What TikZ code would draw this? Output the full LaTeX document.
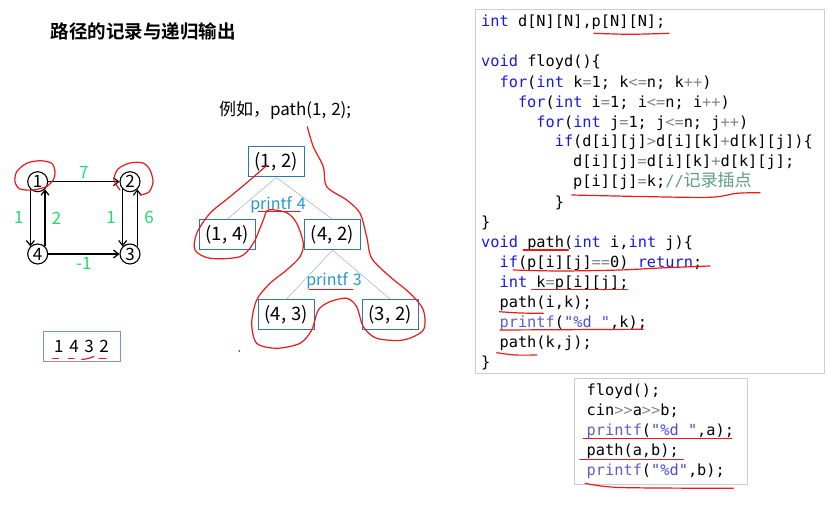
\documentclass[tikz,border=0pt]{standalone}
\usepackage{fontspec}
\setmainfont{Noto Sans CJK SC}[BoldFont={Noto Sans CJK SC Bold}]
\newfontfamily\codefont{DejaVu Sans Mono}
\newfontfamily\cjkfont{Noto Sans CJK SC}
\usetikzlibrary{arrows.meta}
\definecolor{wgreen}{RGB}{30, 220, 110}
\definecolor{boxblue}{RGB}{46, 117, 182}
\definecolor{seqblue}{RGB}{115, 150, 215}
\definecolor{lineblue}{RGB}{150, 175, 220}
\definecolor{printblue}{RGB}{40, 150, 215}
\definecolor{penred}{RGB}{235, 25, 25}
\definecolor{kwblue}{RGB}{25, 25, 230}
\definecolor{fnblue}{RGB}{95, 95, 190}
\definecolor{strblue}{RGB}{75, 75, 215}
\definecolor{opgray}{RGB}{135, 135, 135}
\definecolor{cmgreen}{RGB}{95, 155, 125}
\definecolor{framegray}{RGB}{205, 205, 205}

\newcommand{\ckw}[1]{\textcolor{kwblue}{#1}}
\newcommand{\cop}[1]{\textcolor{opgray}{#1}}
\newcommand{\cfn}[1]{\textcolor{fnblue}{#1}}
\newcommand{\cstr}[1]{\textcolor{strblue}{#1}}
\newcommand{\ccm}[1]{\textcolor{cmgreen}{#1}}
\newcommand{\wordgap}[1]{\spaceskip #1\relax}

\begin{document}
\begin{tikzpicture}[x=1pt, y=-1pt,
  vert/.style={draw, circle, line width=1.1, minimum size=20, inner sep=0,
    font=\fontsize{17}{18}\selectfont},
  arc/.style={line width=1.2, -{Straight Barb[length=5pt, width=8pt]}},
  weight/.style={wgreen, font=\fontsize{17}{18}\selectfont},
  tbox/.style={draw=boxblue, line width=1, minimum width=56, minimum height=30,
    inner sep=0, font=\fontsize{18.5}{20}\selectfont\wordgap{5pt}},
  tedge/.style={lineblue, line width=0.5},
  code/.style={anchor=base west, inner sep=0,
    font=\codefont\fontsize{15.3}{18}\selectfont},
  pen/.style={penred, line width=1.2, line cap=round}]

  \useasboundingbox (0, 0) rectangle (827, 505);

  \node[anchor=west, font=\bfseries\fontsize{18.5}{22}\selectfont] (title)
    at (47, 31.7) {路径的记录与递归输出};

  % graph
  \node[vert] (v1) at (37.7, 181.7) {1};
  \node[vert] (v2) at (130, 181.7) {2};
  \node[vert] (v4) at (37.7, 254) {4};
  \node[vert] (v3) at (130, 254) {3};

  \draw[arc] (v1) -- (v2) node[weight, midway, above=-1] {7};
  \draw[arc] (v4) -- (v3) node[weight, midway, below=-1] {-1};
  \draw[arc] (v1.-134) -- (v4.134) node[weight, midway, left=3] {1};
  \draw[arc] (v4.46) -- (v1.-46) node[weight, midway, right=3] {2};
  \draw[arc] (v2.-134) -- (v3.134) node[weight, midway, left=3] {1};
  \draw[arc] (v3.46) -- (v2.-46) node[weight, midway, right=3] {6};

  \draw[pen] plot[smooth] coordinates {(46.7, 186.7) (33.3, 190) (20, 189)
    (15, 181.7) (16.7, 171.7) (26.7, 163.3) (40, 160.7) (51.7, 163.3)
    (55, 171.7) (53.3, 180) (46.7, 186.7)};
  \draw[pen] plot[smooth] coordinates {(120, 190) (114, 180) (118, 169)
    (130, 163) (143, 163) (150, 170) (153, 182) (149, 192) (140, 195)};

  \node[draw=seqblue, line width=0.8, minimum width=77, minimum height=30,
    font=\fontsize{17}{18}\selectfont\wordgap{5.6pt}] (seq)
    at (81.5, 346) {1 4 3 2};
  \draw[pen] (52.7, 358.3) -- (58.3, 358.3);
  \draw[pen] (68.3, 358.3) -- (74, 358.3);
  \draw[pen] plot[smooth] coordinates {(81.7, 359.5) (88, 358.5) (94, 356.5)};
  \draw[pen] (99, 358.3) -- (106, 358.3);

  % recursion tree
  \node[anchor=west, font=\fontsize{17}{20}\selectfont\wordgap{5pt}] (call)
    at (215.5, 110.7) {例如，path(1, 2);};

  \node[tbox] (t12) at (276.3, 162) {(1, 2)};
  \node[tbox] (t14) at (227.2, 234.7) {(1, 4)};
  \node[tbox] (t42) at (332.5, 234.7) {(4, 2)};
  \node[tbox] (t43) at (286.3, 314.7) {(4, 3)};
  \node[tbox] (t32) at (390.3, 314.7) {(3, 2)};

  \draw[tedge] (t12.south) -- (t14.north);
  \draw[tedge] (t12.south) -- (t42.north);
  \draw[tedge] (t42.south) -- (t43.north);
  \draw[tedge] (t42.south) -- (t32.north);

  \node[printblue, inner sep=0, font=\fontsize{16}{18}\selectfont\wordgap{5pt}]
    (pf4) at (278, 204.5) {printf 4};
  \node[printblue, inner sep=0, font=\fontsize{16}{18}\selectfont\wordgap{5pt}]
    (pf3) at (334, 281.2) {printf 3};

  \draw[pen] (258.3, 211.7) -- (300, 211.7);
  \draw[pen] (309.3, 289.3) -- (352.7, 289.3);
  \draw[pen] plot[smooth] coordinates {(267.3, 165) (250, 180) (230, 196.7)
    (210, 213.3) (196.7, 233.3) (195, 250) (210, 258.3) (240, 256.7)
    (253.3, 243.3) (263.3, 220) (268.3, 210) (286.7, 212.7) (296.7, 223.3)
    (303.3, 243.3) (300, 256.7) (286.7, 270) (270, 283.3) (256.7, 300)
    (251.7, 323.3) (256.7, 343.3) (276.7, 348.3) (300, 343.3) (311.7, 330)
    (318.3, 310) (330, 301.7) (346.7, 298.3) (356.7, 306.7) (363.3, 326.7)
    (376.7, 338.3) (403.3, 340) (423.3, 330) (423.3, 310) (410, 293.3)
    (390, 276.7) (371.7, 258.3) (366.7, 236.7) (360, 213.3) (346.7, 200)
    (326.7, 186.7) (323.3, 166.7) (313.3, 146.7) (307.3, 126.7)};
  \fill[penred] (239.3, 351) circle (1);

  % code
  \draw[framegray] (475, 9) rectangle (824, 373);
  \node[code] (c1) at (481, 27) {\ckw{int} d[N][N],p[N][N];};
  \node[code] (c2) at (481, 67) {\ckw{void} floyd()\{};
  \node[code] (c3) at (499.4, 87.3)
    {\ckw{for}(\ckw{int} k\cop{=}1; k\cop{<=}n; k\cop{++})};
  \node[code] (c4) at (517.8, 107.3)
    {\ckw{for}(\ckw{int} i\cop{=}1; i\cop{<=}n; i\cop{++})};
  \node[code] (c5) at (536.2, 127.3)
    {\ckw{for}(\ckw{int} j\cop{=}1; j\cop{<=}n; j\cop{++})};
  \node[code] (c6) at (554.6, 146.7)
    {\ckw{if}(d[i][j]\cop{>}d[i][k]\cop{+}d[k][j])\{};
  \node[code] (c7) at (573, 166.7) {d[i][j]\cop{=}d[i][k]\cop{+}d[k][j];};
  \node[code] (c8) at (573, 186.7)
    {p[i][j]\cop{=}k;\ccm{//{\cjkfont\fontsize{17}{18}\selectfont 记录插点}}};
  \node[code] (c9) at (554.6, 207.7) {\}};
  \node[code] (c10) at (481, 227.7) {\}};
  \node[code] (c11) at (481, 247.7)
    {\ckw{void} path(\ckw{int} i,\ckw{int} j)\{};
  \node[code] (c12) at (499.4, 267.7)
    {\ckw{if}(p[i][j]\cop{==}0) \ckw{return};};
  \node[code] (c13) at (499.4, 287.7) {\ckw{int} k\cop{=}p[i][j];};
  \node[code] (c14) at (499.4, 307.7) {path(i,k);};
  \node[code] (c15) at (499.4, 327.7) {\cfn{printf}(\cstr{"\%d "},k);};
  \node[code] (c16) at (499.4, 347.7) {path(k,j);};
  \node[code] (c17) at (481, 367.7) {\}};

  \draw[pen] plot[smooth] coordinates {(594, 33.3) (630, 34.3) (669, 33.3)};
  \draw[pen] plot[smooth] coordinates {(571.7, 195) (640, 196.5)
    (710, 197.3) (736.7, 193.3) (760, 192.7)};
  \draw[pen] (523.3, 250) -- (568.3, 250);
  \draw[pen] plot[smooth] coordinates {(513.3, 270) (560, 271) (620, 270)
    (660, 268) (710, 266)};
  \draw[pen] (531.7, 289.3) -- (627.3, 289.3);
  \draw[pen] plot[smooth] coordinates {(499.3, 311.7) (520, 313) (543.3, 313.3)};
  \draw[pen] (500, 330) -- (643.3, 329.3);
  \draw[pen] plot[smooth] coordinates {(496.7, 352.7) (515, 355) (536.7, 355)};

  % main
  \draw[framegray] (574.3, 378.3) rectangle (747.3, 484);
  \node[code] (m1) at (586.5, 395) {floyd();};
  \node[code] (m2) at (586.5, 415) {cin\cop{>\kern0pt>}a\cop{>\kern0pt>}b;};
  \node[code] (m3) at (586.5, 435) {\cfn{printf}(\cstr{"\%d "},a);};
  \node[code] (m4) at (586.5, 455) {path(a,b);};
  \node[code] (m5) at (586.5, 475) {\cfn{printf}(\cstr{"\%d"},b);};

  \draw[pen] (583.3, 438.3) -- (731.7, 438.3);
  \draw[pen] (580, 459.3) -- (683.3, 459.3);
  \draw[pen] plot[smooth] coordinates {(585, 483.3) (620, 487.5) (733.3, 488.3)};

\end{tikzpicture}
\end{document}
